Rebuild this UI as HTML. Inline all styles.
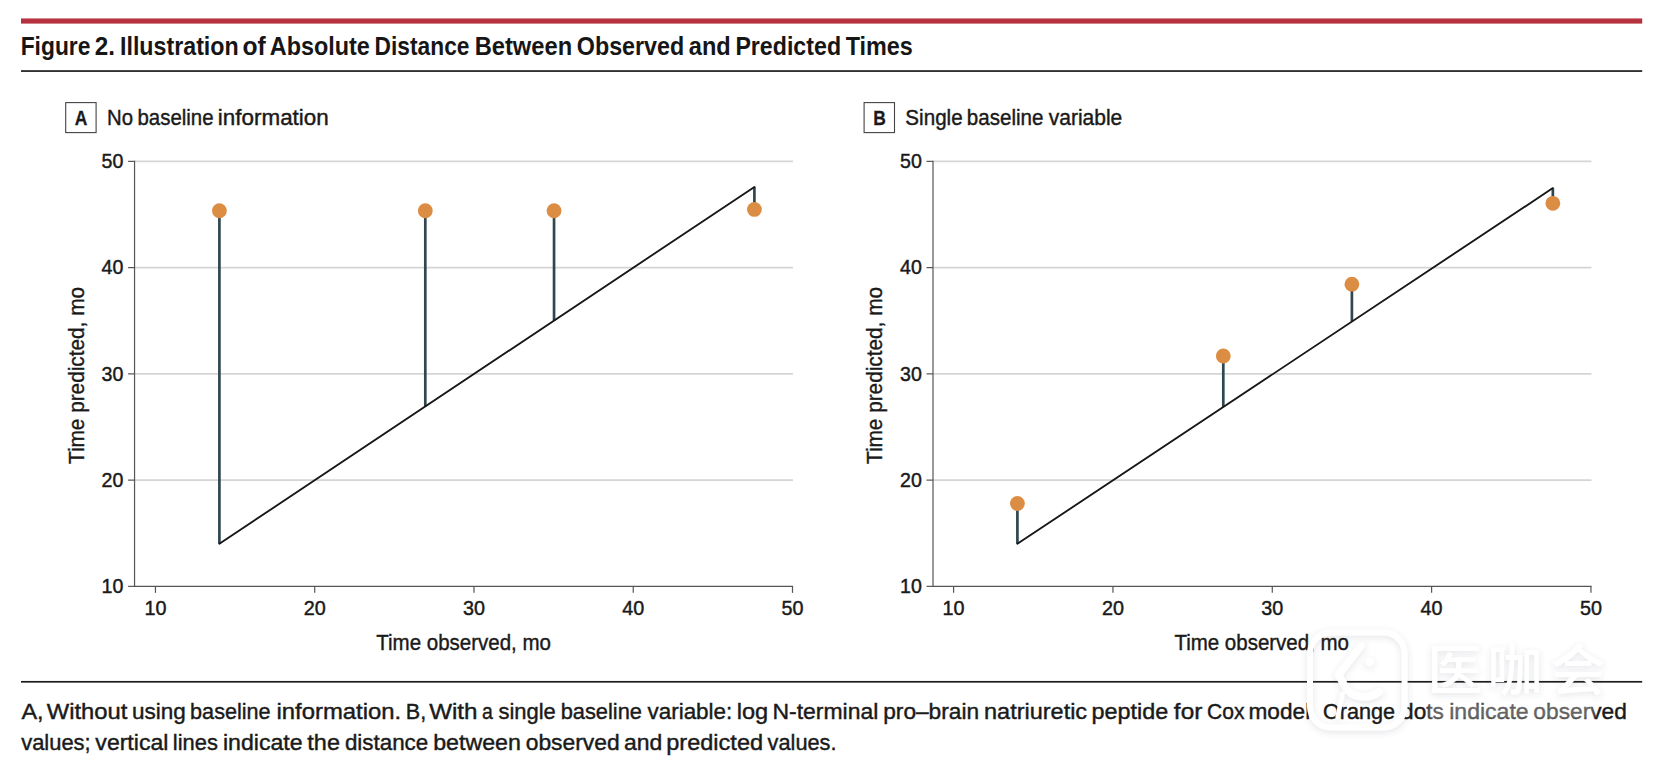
<!DOCTYPE html>
<html lang="en">
<head>
<meta charset="utf-8">
<title>Figure 2. Illustration of Absolute Distance Between Observed and Predicted Times</title>
<style>
html,body{margin:0;padding:0;background:#fff;}
body{width:1660px;height:770px;overflow:hidden;position:relative;font-family:"Liberation Sans", "Noto Sans CJK SC", sans-serif;}
svg{position:absolute;left:0;top:0;display:block;}
text{font-family:"Liberation Sans", "Noto Sans CJK SC", sans-serif;fill:#1a1a1a;}
.title{font-size:25.7px;font-weight:700;fill:#161616;}
.panel{font-size:22.6px;stroke:#1a1a1a;stroke-width:0.42px;}
.pl{font-size:20.5px;font-weight:700;stroke:#1a1a1a;stroke-width:0.3px;}
.tk{font-size:20.5px;stroke:#1a1a1a;stroke-width:0.45px;}
.ax{font-size:22px;stroke:#1a1a1a;stroke-width:0.4px;}
.cap{font-size:22.4px;stroke:#1a1a1a;stroke-width:0.42px;word-spacing:-1.5px;}
.wm{font-size:55px;font-weight:500;fill:#fff;}
</style>
</head>
<body>
<svg width="1660" height="770" viewBox="0 0 1660 770">

<rect x="21" y="18.45" width="1621.2" height="5.15" fill="#b5313d"/>
<rect x="21" y="70.2" width="1621.2" height="1.7" fill="#1c1c1c"/>
<rect x="21" y="680.95" width="1621.2" height="1.7" fill="#1c1c1c"/>
<rect x="65.70" y="102.6" width="30.4" height="30" fill="#fff" stroke="#444" stroke-width="1.1"/>
<text class="pl" x="74.80" y="125.0" textLength="12.6" lengthAdjust="spacingAndGlyphs">A</text>
<rect x="864.10" y="102.6" width="30.4" height="30" fill="#fff" stroke="#444" stroke-width="1.1"/>
<text class="pl" x="873.20" y="125.0" textLength="12.6" lengthAdjust="spacingAndGlyphs">B</text>
<line x1="134.55" y1="480.12" x2="793.00" y2="480.12" stroke="#d5d5d5" stroke-width="1.55"/>
<line x1="134.55" y1="373.87" x2="793.00" y2="373.87" stroke="#d5d5d5" stroke-width="1.55"/>
<line x1="134.55" y1="267.62" x2="793.00" y2="267.62" stroke="#d5d5d5" stroke-width="1.55"/>
<line x1="134.55" y1="161.37" x2="793.00" y2="161.37" stroke="#d5d5d5" stroke-width="1.55"/>
<path d="M134.55 160.77 V586.37 H793.10" fill="none" stroke="#555" stroke-width="1.2"/>
<line x1="128.05" y1="586.37" x2="134.55" y2="586.37" stroke="#555" stroke-width="1.2"/>
<line x1="155.46" y1="586.37" x2="155.46" y2="592.87" stroke="#555" stroke-width="1.2"/>
<text class="tk" x="123.35" y="593.12" text-anchor="end" textLength="21.8" lengthAdjust="spacingAndGlyphs">10</text>
<text class="tk" x="144.46" y="614.75" textLength="22.0" lengthAdjust="spacingAndGlyphs">10</text>
<line x1="128.05" y1="480.12" x2="134.55" y2="480.12" stroke="#555" stroke-width="1.2"/>
<line x1="314.72" y1="586.37" x2="314.72" y2="592.87" stroke="#555" stroke-width="1.2"/>
<text class="tk" x="123.35" y="486.87" text-anchor="end" textLength="21.8" lengthAdjust="spacingAndGlyphs">20</text>
<text class="tk" x="303.72" y="614.75" textLength="22.0" lengthAdjust="spacingAndGlyphs">20</text>
<line x1="128.05" y1="373.87" x2="134.55" y2="373.87" stroke="#555" stroke-width="1.2"/>
<line x1="473.98" y1="586.37" x2="473.98" y2="592.87" stroke="#555" stroke-width="1.2"/>
<text class="tk" x="123.35" y="380.62" text-anchor="end" textLength="21.8" lengthAdjust="spacingAndGlyphs">30</text>
<text class="tk" x="462.98" y="614.75" textLength="22.0" lengthAdjust="spacingAndGlyphs">30</text>
<line x1="128.05" y1="267.62" x2="134.55" y2="267.62" stroke="#555" stroke-width="1.2"/>
<line x1="633.24" y1="586.37" x2="633.24" y2="592.87" stroke="#555" stroke-width="1.2"/>
<text class="tk" x="123.35" y="274.37" text-anchor="end" textLength="21.8" lengthAdjust="spacingAndGlyphs">40</text>
<text class="tk" x="622.24" y="614.75" textLength="22.0" lengthAdjust="spacingAndGlyphs">40</text>
<line x1="128.05" y1="161.37" x2="134.55" y2="161.37" stroke="#555" stroke-width="1.2"/>
<line x1="792.50" y1="586.37" x2="792.50" y2="592.87" stroke="#555" stroke-width="1.2"/>
<text class="tk" x="123.35" y="168.12" text-anchor="end" textLength="21.8" lengthAdjust="spacingAndGlyphs">50</text>
<text class="tk" x="781.50" y="614.75" textLength="22.0" lengthAdjust="spacingAndGlyphs">50</text>
<text class="ax" transform="translate(84.4 464) rotate(-90)" textLength="177" lengthAdjust="spacingAndGlyphs">Time predicted, mo</text>
<text class="ax" x="376.3" y="649.5" textLength="174.6" lengthAdjust="spacingAndGlyphs">Time observed, mo</text>
<line x1="219.40" y1="543.80" x2="219.40" y2="210.75" stroke="#30474f" stroke-width="2.7"/>
<line x1="425.30" y1="406.44" x2="425.30" y2="210.75" stroke="#30474f" stroke-width="2.7"/>
<line x1="554.05" y1="320.55" x2="554.05" y2="210.75" stroke="#30474f" stroke-width="2.7"/>
<line x1="754.40" y1="186.90" x2="754.40" y2="209.40" stroke="#30474f" stroke-width="2.7"/>
<line x1="219.40" y1="543.80" x2="754.40" y2="186.90" stroke="#161616" stroke-width="1.85" stroke-linecap="round"/>
<circle cx="219.40" cy="210.75" r="7.4" fill="#dc8d44"/>
<circle cx="425.30" cy="210.75" r="7.4" fill="#dc8d44"/>
<circle cx="554.05" cy="210.75" r="7.4" fill="#dc8d44"/>
<circle cx="754.40" cy="209.40" r="7.4" fill="#dc8d44"/>
<line x1="933.00" y1="480.12" x2="1591.45" y2="480.12" stroke="#d5d5d5" stroke-width="1.55"/>
<line x1="933.00" y1="373.87" x2="1591.45" y2="373.87" stroke="#d5d5d5" stroke-width="1.55"/>
<line x1="933.00" y1="267.62" x2="1591.45" y2="267.62" stroke="#d5d5d5" stroke-width="1.55"/>
<line x1="933.00" y1="161.37" x2="1591.45" y2="161.37" stroke="#d5d5d5" stroke-width="1.55"/>
<path d="M933.00 160.77 V586.37 H1591.55" fill="none" stroke="#555" stroke-width="1.2"/>
<line x1="926.50" y1="586.37" x2="933.00" y2="586.37" stroke="#555" stroke-width="1.2"/>
<line x1="953.60" y1="586.37" x2="953.60" y2="592.87" stroke="#555" stroke-width="1.2"/>
<text class="tk" x="921.80" y="593.12" text-anchor="end" textLength="21.8" lengthAdjust="spacingAndGlyphs">10</text>
<text class="tk" x="942.60" y="614.75" textLength="22.0" lengthAdjust="spacingAndGlyphs">10</text>
<line x1="926.50" y1="480.12" x2="933.00" y2="480.12" stroke="#555" stroke-width="1.2"/>
<line x1="1112.94" y1="586.37" x2="1112.94" y2="592.87" stroke="#555" stroke-width="1.2"/>
<text class="tk" x="921.80" y="486.87" text-anchor="end" textLength="21.8" lengthAdjust="spacingAndGlyphs">20</text>
<text class="tk" x="1101.94" y="614.75" textLength="22.0" lengthAdjust="spacingAndGlyphs">20</text>
<line x1="926.50" y1="373.87" x2="933.00" y2="373.87" stroke="#555" stroke-width="1.2"/>
<line x1="1272.28" y1="586.37" x2="1272.28" y2="592.87" stroke="#555" stroke-width="1.2"/>
<text class="tk" x="921.80" y="380.62" text-anchor="end" textLength="21.8" lengthAdjust="spacingAndGlyphs">30</text>
<text class="tk" x="1261.28" y="614.75" textLength="22.0" lengthAdjust="spacingAndGlyphs">30</text>
<line x1="926.50" y1="267.62" x2="933.00" y2="267.62" stroke="#555" stroke-width="1.2"/>
<line x1="1431.61" y1="586.37" x2="1431.61" y2="592.87" stroke="#555" stroke-width="1.2"/>
<text class="tk" x="921.80" y="274.37" text-anchor="end" textLength="21.8" lengthAdjust="spacingAndGlyphs">40</text>
<text class="tk" x="1420.61" y="614.75" textLength="22.0" lengthAdjust="spacingAndGlyphs">40</text>
<line x1="926.50" y1="161.37" x2="933.00" y2="161.37" stroke="#555" stroke-width="1.2"/>
<line x1="1590.95" y1="586.37" x2="1590.95" y2="592.87" stroke="#555" stroke-width="1.2"/>
<text class="tk" x="921.80" y="168.12" text-anchor="end" textLength="21.8" lengthAdjust="spacingAndGlyphs">50</text>
<text class="tk" x="1579.95" y="614.75" textLength="22.0" lengthAdjust="spacingAndGlyphs">50</text>
<text class="ax" transform="translate(882.4 464) rotate(-90)" textLength="177" lengthAdjust="spacingAndGlyphs">Time predicted, mo</text>
<text class="ax" x="1174.4" y="649.5" textLength="174.6" lengthAdjust="spacingAndGlyphs">Time observed, mo</text>
<line x1="1017.40" y1="543.80" x2="1017.40" y2="503.50" stroke="#30474f" stroke-width="2.7"/>
<line x1="1223.30" y1="407.02" x2="1223.30" y2="356.00" stroke="#30474f" stroke-width="2.7"/>
<line x1="1351.90" y1="321.59" x2="1351.90" y2="284.15" stroke="#30474f" stroke-width="2.7"/>
<line x1="1552.85" y1="188.10" x2="1552.85" y2="203.30" stroke="#30474f" stroke-width="2.7"/>
<line x1="1017.40" y1="543.80" x2="1552.85" y2="188.10" stroke="#161616" stroke-width="1.85" stroke-linecap="round"/>
<circle cx="1017.40" cy="503.50" r="7.4" fill="#dc8d44"/>
<circle cx="1223.30" cy="356.00" r="7.4" fill="#dc8d44"/>
<circle cx="1351.90" cy="284.15" r="7.4" fill="#dc8d44"/>
<circle cx="1552.85" cy="203.30" r="7.4" fill="#dc8d44"/>
<text class="cap" y="718.7"><tspan x="21.40" textLength="22.19" lengthAdjust="spacingAndGlyphs">A,</tspan> <tspan x="46.76" textLength="80.68" lengthAdjust="spacingAndGlyphs">Without</tspan> <tspan x="132.02" textLength="53.84" lengthAdjust="spacingAndGlyphs">using</tspan> <tspan x="190.09" textLength="80.59" lengthAdjust="spacingAndGlyphs">baseline</tspan> <tspan x="276.53" textLength="124.73" lengthAdjust="spacingAndGlyphs">information.</tspan> <tspan x="405.78" textLength="20.35" lengthAdjust="spacingAndGlyphs">B,</tspan> <tspan x="429.16" textLength="48.39" lengthAdjust="spacingAndGlyphs">With</tspan> <tspan x="482.12" textLength="10.80" lengthAdjust="spacingAndGlyphs">a</tspan> <tspan x="498.44" textLength="57.40" lengthAdjust="spacingAndGlyphs">single</tspan> <tspan x="560.67" textLength="81.31" lengthAdjust="spacingAndGlyphs">baseline</tspan> <tspan x="647.48" textLength="84.84" lengthAdjust="spacingAndGlyphs">variable:</tspan> <tspan x="736.65" textLength="31.47" lengthAdjust="spacingAndGlyphs">log</tspan> <tspan x="772.46" textLength="105.86" lengthAdjust="spacingAndGlyphs">N-terminal</tspan> <tspan x="883.21" textLength="95.87" lengthAdjust="spacingAndGlyphs">pro–brain</tspan> <tspan x="984.06" textLength="103.06" lengthAdjust="spacingAndGlyphs">natriuretic</tspan> <tspan x="1091.46" textLength="76.79" lengthAdjust="spacingAndGlyphs">peptide</tspan> <tspan x="1173.86" textLength="28.46" lengthAdjust="spacingAndGlyphs">for</tspan> <tspan x="1206.94" textLength="37.54" lengthAdjust="spacingAndGlyphs">Cox</tspan> <tspan x="1248.51" textLength="68.00" lengthAdjust="spacingAndGlyphs">model.</tspan> <tspan x="1322.92" textLength="72.17" lengthAdjust="spacingAndGlyphs">Orange</tspan> <tspan x="1401.09" textLength="42.82" lengthAdjust="spacingAndGlyphs">dots</tspan> <tspan x="1449.19" textLength="79.50" lengthAdjust="spacingAndGlyphs">indicate</tspan> <tspan x="1533.39" textLength="93.46" lengthAdjust="spacingAndGlyphs">observed</tspan></text>
<text class="cap" y="749.7"><tspan x="21.18" textLength="69.46" lengthAdjust="spacingAndGlyphs">values;</tspan> <tspan x="95.37" textLength="72.99" lengthAdjust="spacingAndGlyphs">vertical</tspan> <tspan x="172.87" textLength="45.04" lengthAdjust="spacingAndGlyphs">lines</tspan> <tspan x="222.98" textLength="79.70" lengthAdjust="spacingAndGlyphs">indicate</tspan> <tspan x="307.33" textLength="32.61" lengthAdjust="spacingAndGlyphs">the</tspan> <tspan x="344.91" textLength="83.29" lengthAdjust="spacingAndGlyphs">distance</tspan> <tspan x="433.18" textLength="87.73" lengthAdjust="spacingAndGlyphs">between</tspan> <tspan x="525.69" textLength="93.97" lengthAdjust="spacingAndGlyphs">observed</tspan> <tspan x="623.98" textLength="38.29" lengthAdjust="spacingAndGlyphs">and</tspan> <tspan x="666.25" textLength="96.85" lengthAdjust="spacingAndGlyphs">predicted</tspan> <tspan x="767.58" textLength="68.95" lengthAdjust="spacingAndGlyphs">values.</tspan></text>
<text class="title" y="54.7"><tspan x="20.70" textLength="69.71" lengthAdjust="spacingAndGlyphs">Figure</tspan> <tspan x="94.87" textLength="20.22" lengthAdjust="spacingAndGlyphs">2.</tspan> <tspan x="119.97" textLength="118.75" lengthAdjust="spacingAndGlyphs">Illustration</tspan> <tspan x="242.41" textLength="23.28" lengthAdjust="spacingAndGlyphs">of</tspan> <tspan x="269.80" textLength="99.99" lengthAdjust="spacingAndGlyphs">Absolute</tspan> <tspan x="374.61" textLength="94.87" lengthAdjust="spacingAndGlyphs">Distance</tspan> <tspan x="474.64" textLength="97.54" lengthAdjust="spacingAndGlyphs">Between</tspan> <tspan x="576.77" textLength="107.51" lengthAdjust="spacingAndGlyphs">Observed</tspan> <tspan x="688.79" textLength="41.91" lengthAdjust="spacingAndGlyphs">and</tspan> <tspan x="735.38" textLength="105.68" lengthAdjust="spacingAndGlyphs">Predicted</tspan> <tspan x="845.67" textLength="67.12" lengthAdjust="spacingAndGlyphs">Times</tspan></text>
<text class="panel" y="125.45"><tspan x="106.97" textLength="26.01" lengthAdjust="spacingAndGlyphs">No</tspan> <tspan x="137.47" textLength="76.05" lengthAdjust="spacingAndGlyphs">baseline</tspan> <tspan x="217.83" textLength="110.97" lengthAdjust="spacingAndGlyphs">information</tspan></text>
<text class="panel" y="125.45"><tspan x="905.37" textLength="57.26" lengthAdjust="spacingAndGlyphs">Single</tspan> <tspan x="966.86" textLength="76.57" lengthAdjust="spacingAndGlyphs">baseline</tspan> <tspan x="1048.69" textLength="73.59" lengthAdjust="spacingAndGlyphs">variable</tspan></text>
<defs><filter id="wmsh" x="-10%" y="-25%" width="120%" height="150%"><feGaussianBlur in="SourceAlpha" stdDeviation="3.4" result="b"/><feOffset in="b" dy="1.5" result="o"/><feFlood flood-color="#4c586e" flood-opacity="0.16"/><feComposite in2="o" operator="in" result="s"/><feMerge><feMergeNode in="s"/><feMergeNode in="SourceGraphic"/></feMerge></filter>
<filter id="wmbl" x="-10%" y="-50%" width="120%" height="200%"><feGaussianBlur stdDeviation="2.2"/></filter></defs>
<g filter="url(#wmsh)">
<rect x="1310" y="632.6" width="94.6" height="95" rx="21" ry="21" fill="none" stroke="#fff" stroke-width="6"/>
<path d="M1361 646 L1338.5 675 L1346 688 C1352 698 1369 700 1379 692" fill="none" stroke="#fff" stroke-width="7.6" stroke-linecap="round" stroke-linejoin="round"/>
<path d="M1342.5 694 L1337.6 717" fill="none" stroke="#fff" stroke-width="4.6" stroke-linecap="round"/>
<circle cx="1369.5" cy="662" r="4.2" fill="#fff"/>
<text class="wm" x="1427.2 1487.4 1550.6" y="689.5">医咖会</text>
</g>
<rect x="1428" y="702" width="166" height="18" fill="#fff" opacity="0.32" filter="url(#wmbl)"/>
</svg>
</body>
</html>
